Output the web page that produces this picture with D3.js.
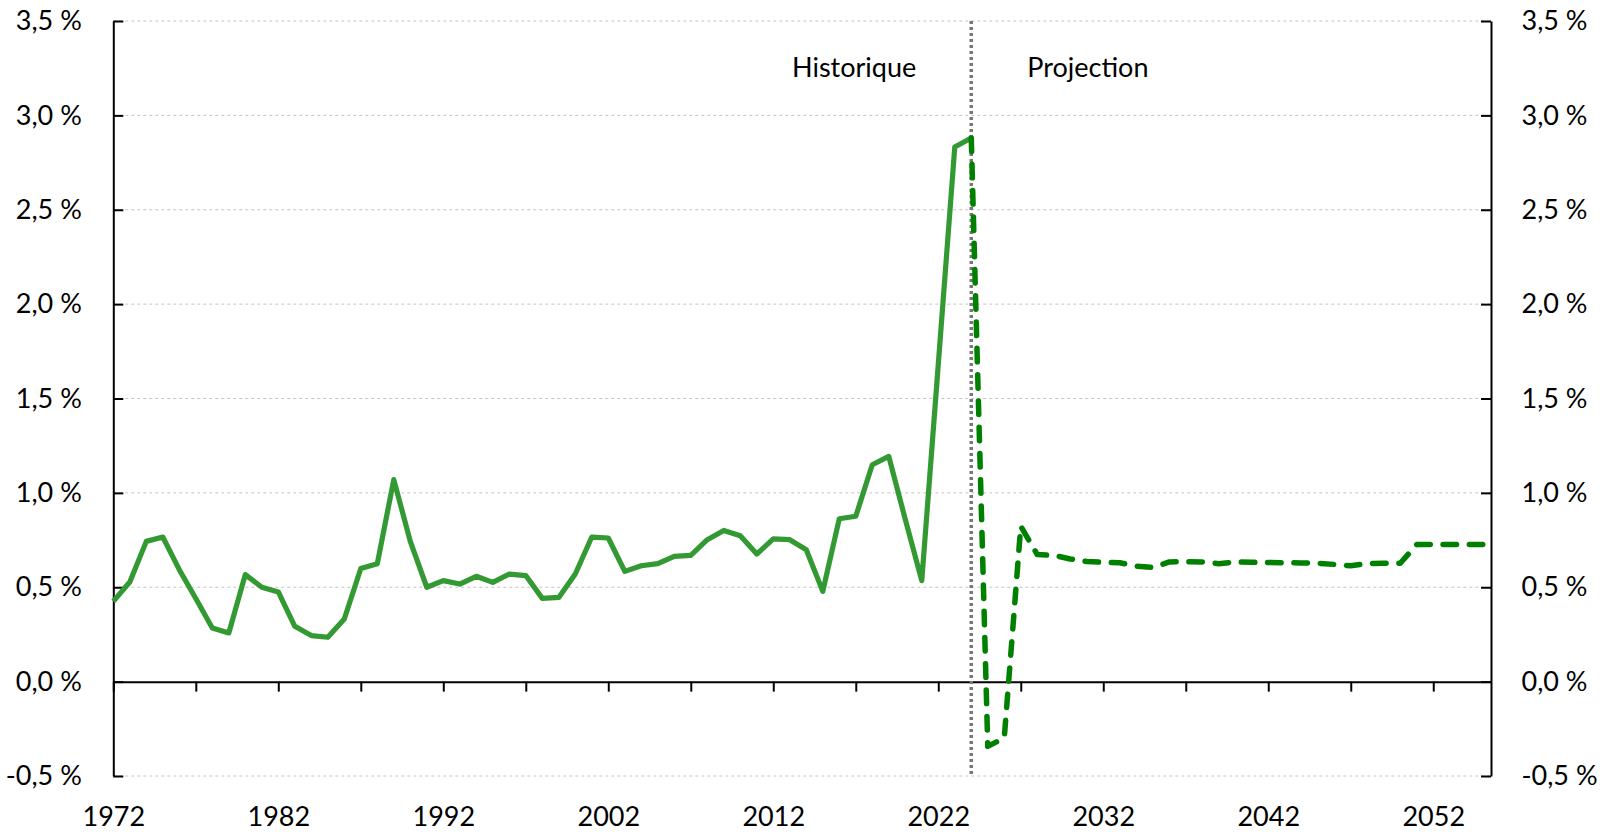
<!DOCTYPE html>
<html>
<head>
<meta charset="utf-8">
<script src="https://cdn.jsdelivr.net/npm/d3@7"></script>
<style>
  html, body { margin: 0; padding: 0; background: #fff; }
  svg { display: block; }
  text { font-family: Lato, "Open Sans", sans-serif; fill: #000; }
</style>
</head>
<body>
<svg id="chart" width="1603" height="832"></svg>
<script>
// ---- data ----
const histYears = d3.range(1972, 2025);
const histValues = [
  0.425, 0.528, 0.743, 0.766, 0.593, 0.440, 0.284, 0.258, 0.567, 0.500,
  0.475, 0.293, 0.244, 0.235, 0.332, 0.599, 0.625, 1.070, 0.743, 0.500,
  0.535, 0.517, 0.558, 0.526, 0.570, 0.562, 0.441, 0.446, 0.570, 0.766,
  0.761, 0.584, 0.614, 0.625, 0.664, 0.669, 0.752, 0.801, 0.773, 0.676,
  0.756, 0.752, 0.699, 0.478, 0.863, 0.876, 1.149, 1.193, 0.860, 0.535,
  1.680, 2.832, 2.880
];
const projYears = d3.range(2024, 2056);
const projValues = [
  2.880, -0.343, -0.298, 0.823, 0.673, 0.669, 0.650, 0.636, 0.632, 0.630,
  0.611, 0.605, 0.634, 0.636, 0.634, 0.625, 0.634, 0.632, 0.631, 0.630,
  0.629, 0.627, 0.621, 0.614, 0.625, 0.627, 0.627, 0.726, 0.726, 0.726,
  0.726, 0.726
];
const yTicks = [-0.5, 0, 0.5, 1.0, 1.5, 2.0, 2.5, 3.0, 3.5];
const xMinorTicks = d3.range(1972, 2056, 5);
const xLabelTicks = [1972, 1982, 1992, 2002, 2012, 2022, 2032, 2042, 2052];
const splitYear = 2024;
const labelLeft = "Historique";
const labelRight = "Projection";

// ---- scales ----
const svg = d3.select("#chart");
const x = d3.scaleLinear().domain([1972, 2055.5]).range([113.3, 1491]);
const y = d3.scaleLinear().domain([-0.5, 3.5]).range([776, 21]);
const fmt = d => d.toFixed(1).replace(".", ",") + " %";
const FS = 27;

// gridlines
svg.append("g").selectAll("line").data(yTicks.filter(d => d !== 0)).join("line")
  .attr("x1", x.range()[0]).attr("x2", x.range()[1])
  .attr("y1", d => y(d)).attr("y2", d => y(d))
  .attr("stroke", "#c4c4c4").attr("stroke-width", 1).attr("stroke-dasharray", "3,3");

// left axis
const gl = svg.append("g").attr("transform", `translate(${x.range()[0]},0)`)
  .call(d3.axisLeft(y).tickValues(yTicks).tickFormat(fmt).tickSizeInner(-10).tickSizeOuter(0).tickPadding(31.5));
// right axis
const gr = svg.append("g").attr("transform", `translate(${x.range()[1]},0)`)
  .call(d3.axisRight(y).tickValues(yTicks).tickFormat(fmt).tickSizeInner(-10).tickSizeOuter(0).tickPadding(30.5));
// x axis at zero
const gx = svg.append("g").attr("transform", `translate(0,${y(0)})`)
  .call(d3.axisBottom(x).tickValues(xMinorTicks).tickFormat("").tickSizeInner(10).tickSizeOuter(0));
// x labels at bottom
const gxl = svg.append("g").attr("transform", `translate(0,${y(-0.5)})`)
  .call(d3.axisBottom(x).tickValues(xLabelTicks).tickFormat(d3.format("d")).tickSize(0).tickPadding(31));
gxl.select(".domain").remove();

[gl, gr, gx].forEach(g => {
  g.select(".domain").attr("stroke", "#000").attr("stroke-width", 2);
  g.selectAll(".tick line").attr("stroke", "#000").attr("stroke-width", 2);
});
[gl, gr, gxl].forEach(g => {
  g.selectAll("text").attr("font-size", FS).attr("font-family", "Lato, sans-serif").attr("fill", "#000");
});

// divider
svg.append("line")
  .attr("x1", x(splitYear)).attr("x2", x(splitYear))
  .attr("y1", y(3.5)).attr("y2", y(-0.5))
  .attr("stroke", "#777777").attr("stroke-width", 3.5).attr("stroke-dasharray", "3,3");

// lines
const line = d3.line().x(d => x(d[0])).y(d => y(d[1]));
svg.append("path")
  .datum(histYears.map((yr, i) => [yr, histValues[i]]))
  .attr("d", line).attr("fill", "none")
  .attr("stroke", "#339933").attr("stroke-width", 5.2).attr("stroke-linejoin", "round");
svg.append("path")
  .datum(projYears.map((yr, i) => [yr, projValues[i]]))
  .attr("d", line).attr("fill", "none")
  .attr("stroke", "#008000").attr("stroke-width", 5.5).attr("stroke-linecap", "round")
  .attr("stroke-linejoin", "round").attr("stroke-dasharray", "13.5,12.8");

// labels
svg.append("text").attr("x", x(splitYear) - 55).attr("y", 76.5)
  .attr("text-anchor", "end").attr("font-size", 27).text(labelLeft);
svg.append("text").attr("x", x(splitYear) + 56).attr("y", 76.5)
  .attr("text-anchor", "start").attr("font-size", 27).text(labelRight);
</script>
</body>
</html>
